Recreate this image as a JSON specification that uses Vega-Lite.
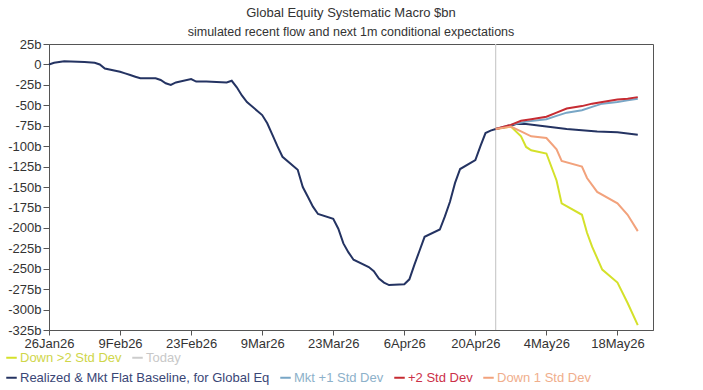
{
  "$schema": "https://vega.github.io/schema/vega-lite/v6.json",
  "width": 604,
  "height": 286,
  "autosize": {"type": "none"},
  "padding": {"left": 49, "top": 44, "right": 50, "bottom": 60},
  "background": "white",
  "title": {
    "text": "Global Equity Systematic Macro $bn",
    "subtitle": "simulated recent flow and next 1m conditional expectations",
    "anchor": "middle",
    "font": "Liberation Sans",
    "subtitleFont": "Liberation Sans",
    "fontSize": 13,
    "subtitleFontSize": 12.5,
    "fontWeight": "normal",
    "color": "#333333",
    "subtitleColor": "#333333",
    "subtitlePadding": 6,
    "offset": 0
  },
  "config": {
    "font": "Liberation Sans",
    "view": {"stroke": "#555555", "strokeWidth": 1}
  },
  "data": {
    "values": [
      {"date": "2026-01-26", "value": 0, "series": "Realized & Mkt Flat Baseline, for Global Eq"},
      {"date": "2026-01-27", "value": 2, "series": "Realized & Mkt Flat Baseline, for Global Eq"},
      {"date": "2026-01-28", "value": 3, "series": "Realized & Mkt Flat Baseline, for Global Eq"},
      {"date": "2026-01-29", "value": 4, "series": "Realized & Mkt Flat Baseline, for Global Eq"},
      {"date": "2026-02-02", "value": 3, "series": "Realized & Mkt Flat Baseline, for Global Eq"},
      {"date": "2026-02-04", "value": 2, "series": "Realized & Mkt Flat Baseline, for Global Eq"},
      {"date": "2026-02-05", "value": 0, "series": "Realized & Mkt Flat Baseline, for Global Eq"},
      {"date": "2026-02-06", "value": -5, "series": "Realized & Mkt Flat Baseline, for Global Eq"},
      {"date": "2026-02-09", "value": -9, "series": "Realized & Mkt Flat Baseline, for Global Eq"},
      {"date": "2026-02-10", "value": -11, "series": "Realized & Mkt Flat Baseline, for Global Eq"},
      {"date": "2026-02-11", "value": -13, "series": "Realized & Mkt Flat Baseline, for Global Eq"},
      {"date": "2026-02-12", "value": -15, "series": "Realized & Mkt Flat Baseline, for Global Eq"},
      {"date": "2026-02-13", "value": -17, "series": "Realized & Mkt Flat Baseline, for Global Eq"},
      {"date": "2026-02-16", "value": -17, "series": "Realized & Mkt Flat Baseline, for Global Eq"},
      {"date": "2026-02-17", "value": -19, "series": "Realized & Mkt Flat Baseline, for Global Eq"},
      {"date": "2026-02-18", "value": -23, "series": "Realized & Mkt Flat Baseline, for Global Eq"},
      {"date": "2026-02-19", "value": -25, "series": "Realized & Mkt Flat Baseline, for Global Eq"},
      {"date": "2026-02-20", "value": -22, "series": "Realized & Mkt Flat Baseline, for Global Eq"},
      {"date": "2026-02-23", "value": -18, "series": "Realized & Mkt Flat Baseline, for Global Eq"},
      {"date": "2026-02-24", "value": -21, "series": "Realized & Mkt Flat Baseline, for Global Eq"},
      {"date": "2026-02-26", "value": -21, "series": "Realized & Mkt Flat Baseline, for Global Eq"},
      {"date": "2026-03-02", "value": -22, "series": "Realized & Mkt Flat Baseline, for Global Eq"},
      {"date": "2026-03-03", "value": -20, "series": "Realized & Mkt Flat Baseline, for Global Eq"},
      {"date": "2026-03-04", "value": -28, "series": "Realized & Mkt Flat Baseline, for Global Eq"},
      {"date": "2026-03-05", "value": -38, "series": "Realized & Mkt Flat Baseline, for Global Eq"},
      {"date": "2026-03-06", "value": -46, "series": "Realized & Mkt Flat Baseline, for Global Eq"},
      {"date": "2026-03-09", "value": -62, "series": "Realized & Mkt Flat Baseline, for Global Eq"},
      {"date": "2026-03-10", "value": -72, "series": "Realized & Mkt Flat Baseline, for Global Eq"},
      {"date": "2026-03-11", "value": -86, "series": "Realized & Mkt Flat Baseline, for Global Eq"},
      {"date": "2026-03-12", "value": -100, "series": "Realized & Mkt Flat Baseline, for Global Eq"},
      {"date": "2026-03-13", "value": -113, "series": "Realized & Mkt Flat Baseline, for Global Eq"},
      {"date": "2026-03-16", "value": -129, "series": "Realized & Mkt Flat Baseline, for Global Eq"},
      {"date": "2026-03-17", "value": -150, "series": "Realized & Mkt Flat Baseline, for Global Eq"},
      {"date": "2026-03-18", "value": -162, "series": "Realized & Mkt Flat Baseline, for Global Eq"},
      {"date": "2026-03-19", "value": -174, "series": "Realized & Mkt Flat Baseline, for Global Eq"},
      {"date": "2026-03-20", "value": -183, "series": "Realized & Mkt Flat Baseline, for Global Eq"},
      {"date": "2026-03-23", "value": -189, "series": "Realized & Mkt Flat Baseline, for Global Eq"},
      {"date": "2026-03-24", "value": -201, "series": "Realized & Mkt Flat Baseline, for Global Eq"},
      {"date": "2026-03-25", "value": -219, "series": "Realized & Mkt Flat Baseline, for Global Eq"},
      {"date": "2026-03-26", "value": -230, "series": "Realized & Mkt Flat Baseline, for Global Eq"},
      {"date": "2026-03-27", "value": -239, "series": "Realized & Mkt Flat Baseline, for Global Eq"},
      {"date": "2026-03-30", "value": -248, "series": "Realized & Mkt Flat Baseline, for Global Eq"},
      {"date": "2026-03-31", "value": -253, "series": "Realized & Mkt Flat Baseline, for Global Eq"},
      {"date": "2026-04-01", "value": -262, "series": "Realized & Mkt Flat Baseline, for Global Eq"},
      {"date": "2026-04-02", "value": -267, "series": "Realized & Mkt Flat Baseline, for Global Eq"},
      {"date": "2026-04-03", "value": -270, "series": "Realized & Mkt Flat Baseline, for Global Eq"},
      {"date": "2026-04-06", "value": -269, "series": "Realized & Mkt Flat Baseline, for Global Eq"},
      {"date": "2026-04-07", "value": -263, "series": "Realized & Mkt Flat Baseline, for Global Eq"},
      {"date": "2026-04-08", "value": -245, "series": "Realized & Mkt Flat Baseline, for Global Eq"},
      {"date": "2026-04-09", "value": -228, "series": "Realized & Mkt Flat Baseline, for Global Eq"},
      {"date": "2026-04-10", "value": -211, "series": "Realized & Mkt Flat Baseline, for Global Eq"},
      {"date": "2026-04-13", "value": -202, "series": "Realized & Mkt Flat Baseline, for Global Eq"},
      {"date": "2026-04-14", "value": -186, "series": "Realized & Mkt Flat Baseline, for Global Eq"},
      {"date": "2026-04-15", "value": -168, "series": "Realized & Mkt Flat Baseline, for Global Eq"},
      {"date": "2026-04-16", "value": -145, "series": "Realized & Mkt Flat Baseline, for Global Eq"},
      {"date": "2026-04-17", "value": -128, "series": "Realized & Mkt Flat Baseline, for Global Eq"},
      {"date": "2026-04-20", "value": -117, "series": "Realized & Mkt Flat Baseline, for Global Eq"},
      {"date": "2026-04-21", "value": -100, "series": "Realized & Mkt Flat Baseline, for Global Eq"},
      {"date": "2026-04-22", "value": -84, "series": "Realized & Mkt Flat Baseline, for Global Eq"},
      {"date": "2026-04-23", "value": -81, "series": "Realized & Mkt Flat Baseline, for Global Eq"},
      {"date": "2026-04-24", "value": -79, "series": "Realized & Mkt Flat Baseline, for Global Eq"},
      {"date": "2026-04-27", "value": -75, "series": "Realized & Mkt Flat Baseline, for Global Eq"},
      {"date": "2026-04-28", "value": -73, "series": "Realized & Mkt Flat Baseline, for Global Eq"},
      {"date": "2026-04-30", "value": -73, "series": "Realized & Mkt Flat Baseline, for Global Eq"},
      {"date": "2026-05-04", "value": -76, "series": "Realized & Mkt Flat Baseline, for Global Eq"},
      {"date": "2026-05-08", "value": -79, "series": "Realized & Mkt Flat Baseline, for Global Eq"},
      {"date": "2026-05-14", "value": -82, "series": "Realized & Mkt Flat Baseline, for Global Eq"},
      {"date": "2026-05-18", "value": -83, "series": "Realized & Mkt Flat Baseline, for Global Eq"},
      {"date": "2026-05-22", "value": -86, "series": "Realized & Mkt Flat Baseline, for Global Eq"},
      {"date": "2026-04-24", "value": -79, "series": "Mkt +1 Std Dev"},
      {"date": "2026-04-27", "value": -74, "series": "Mkt +1 Std Dev"},
      {"date": "2026-04-30", "value": -70, "series": "Mkt +1 Std Dev"},
      {"date": "2026-05-04", "value": -67, "series": "Mkt +1 Std Dev"},
      {"date": "2026-05-06", "value": -63, "series": "Mkt +1 Std Dev"},
      {"date": "2026-05-08", "value": -59, "series": "Mkt +1 Std Dev"},
      {"date": "2026-05-11", "value": -56, "series": "Mkt +1 Std Dev"},
      {"date": "2026-05-13", "value": -52, "series": "Mkt +1 Std Dev"},
      {"date": "2026-05-15", "value": -48, "series": "Mkt +1 Std Dev"},
      {"date": "2026-05-18", "value": -46, "series": "Mkt +1 Std Dev"},
      {"date": "2026-05-20", "value": -44, "series": "Mkt +1 Std Dev"},
      {"date": "2026-05-22", "value": -42, "series": "Mkt +1 Std Dev"},
      {"date": "2026-04-24", "value": -79, "series": "+2 Std Dev"},
      {"date": "2026-04-27", "value": -74, "series": "+2 Std Dev"},
      {"date": "2026-04-29", "value": -69, "series": "+2 Std Dev"},
      {"date": "2026-05-01", "value": -67, "series": "+2 Std Dev"},
      {"date": "2026-05-04", "value": -64, "series": "+2 Std Dev"},
      {"date": "2026-05-06", "value": -59, "series": "+2 Std Dev"},
      {"date": "2026-05-08", "value": -54, "series": "+2 Std Dev"},
      {"date": "2026-05-11", "value": -51, "series": "+2 Std Dev"},
      {"date": "2026-05-13", "value": -48, "series": "+2 Std Dev"},
      {"date": "2026-05-15", "value": -46, "series": "+2 Std Dev"},
      {"date": "2026-05-18", "value": -43, "series": "+2 Std Dev"},
      {"date": "2026-05-20", "value": -42, "series": "+2 Std Dev"},
      {"date": "2026-05-22", "value": -40, "series": "+2 Std Dev"},
      {"date": "2026-04-24", "value": -79, "series": "Down 1 Std Dev"},
      {"date": "2026-04-27", "value": -76, "series": "Down 1 Std Dev"},
      {"date": "2026-04-29", "value": -82, "series": "Down 1 Std Dev"},
      {"date": "2026-05-01", "value": -88, "series": "Down 1 Std Dev"},
      {"date": "2026-05-04", "value": -90, "series": "Down 1 Std Dev"},
      {"date": "2026-05-06", "value": -104, "series": "Down 1 Std Dev"},
      {"date": "2026-05-07", "value": -118, "series": "Down 1 Std Dev"},
      {"date": "2026-05-11", "value": -125, "series": "Down 1 Std Dev"},
      {"date": "2026-05-12", "value": -139, "series": "Down 1 Std Dev"},
      {"date": "2026-05-14", "value": -156, "series": "Down 1 Std Dev"},
      {"date": "2026-05-18", "value": -170, "series": "Down 1 Std Dev"},
      {"date": "2026-05-20", "value": -184, "series": "Down 1 Std Dev"},
      {"date": "2026-05-22", "value": -204, "series": "Down 1 Std Dev"},
      {"date": "2026-04-24", "value": -79, "series": "Down >2 Std Dev"},
      {"date": "2026-04-27", "value": -76, "series": "Down >2 Std Dev"},
      {"date": "2026-04-29", "value": -88, "series": "Down >2 Std Dev"},
      {"date": "2026-04-30", "value": -101, "series": "Down >2 Std Dev"},
      {"date": "2026-05-01", "value": -105, "series": "Down >2 Std Dev"},
      {"date": "2026-05-04", "value": -109, "series": "Down >2 Std Dev"},
      {"date": "2026-05-06", "value": -142, "series": "Down >2 Std Dev"},
      {"date": "2026-05-07", "value": -170, "series": "Down >2 Std Dev"},
      {"date": "2026-05-11", "value": -184, "series": "Down >2 Std Dev"},
      {"date": "2026-05-12", "value": -206, "series": "Down >2 Std Dev"},
      {"date": "2026-05-13", "value": -223, "series": "Down >2 Std Dev"},
      {"date": "2026-05-15", "value": -251, "series": "Down >2 Std Dev"},
      {"date": "2026-05-18", "value": -267, "series": "Down >2 Std Dev"},
      {"date": "2026-05-20", "value": -292, "series": "Down >2 Std Dev"},
      {"date": "2026-05-22", "value": -319, "series": "Down >2 Std Dev"},
      {"date": "2026-04-24", "value": null, "series": "Today"}
    ]
  },
  "encoding": {
    "x": {
      "field": "date",
      "type": "temporal",
      "scale": {
        "type": "utc",
        "domain": [
          {"year": 2026, "month": 1, "date": 26, "utc": true},
          {"year": 2026, "month": 5, "date": 25, "utc": true}
        ]
      },
      "axis": {
        "title": null,
        "grid": false,
        "values": [
          {"year": 2026, "month": 1, "date": 26, "utc": true},
          {"year": 2026, "month": 2, "date": 9, "utc": true},
          {"year": 2026, "month": 2, "date": 23, "utc": true},
          {"year": 2026, "month": 3, "date": 9, "utc": true},
          {"year": 2026, "month": 3, "date": 23, "utc": true},
          {"year": 2026, "month": 4, "date": 6, "utc": true},
          {"year": 2026, "month": 4, "date": 20, "utc": true},
          {"year": 2026, "month": 5, "date": 4, "utc": true},
          {"year": 2026, "month": 5, "date": 18, "utc": true}
        ],
        "labelExpr": "utcFormat(datum.value, '%-d%b%y')",
        "labelFlush": false,
        "labelOverlap": false,
        "labelFontSize": 13,
        "labelColor": "#333333",
        "labelPadding": 2,
        "tickSize": 5,
        "tickColor": "#555555",
        "domainColor": "#555555"
      }
    }
  },
  "layer": [
    {
      "transform": [{"filter": "datum.series === 'Down >2 Std Dev' || datum.series === 'Today'"}],
      "encoding": {
        "color": {
          "field": "series",
          "type": "nominal",
          "scale": {"domain": ["Down >2 Std Dev", "Today"], "range": ["#d4e12a", "#cccccc"]},
          "legend": {
            "orient": "none",
            "legendX": -44,
            "legendY": 307,
            "direction": "horizontal",
            "title": null,
            "symbolType": "stroke",
            "symbolStrokeWidth": 2,
            "symbolSize": 110,
            "labelFontSize": 13,
            "labelOffset": 2,
            "labelLimit": 400,
            "columnPadding": 6,
            "encode": {
              "labels": {"update": {"fill": {"signal": "datum.value === 'Today' ? '#c8c8c8' : '#cfd64a'"}}}
            }
          }
        }
      },
      "layer": [
        {
          "transform": [{"filter": "datum.series === 'Today'"}],
          "mark": {"type": "rule", "strokeWidth": 1.2},
          "encoding": {}
        },
        {
          "transform": [{"filter": "datum.series === 'Down >2 Std Dev'"}],
          "mark": {"type": "line", "strokeWidth": 2},
          "encoding": {
            "y": {
              "field": "value",
              "type": "quantitative",
              "scale": {"domain": [-325, 25], "nice": false, "zero": false},
              "axis": {
                "title": null,
                "grid": false,
                "values": [25, 0, -25, -50, -75, -100, -125, -150, -175, -200, -225, -250, -275, -300, -325],
                "labelExpr": "datum.value == 0 ? '0' : datum.value + 'b'",
                "labelFlush": false,
                "labelOverlap": false,
                "labelFontSize": 13,
                "labelColor": "#333333",
                "labelPadding": 2,
                "tickSize": 6,
                "tickColor": "#555555",
                "domainColor": "#555555"
              }
            }
          }
        }
      ]
    },
    {
      "transform": [{"filter": "datum.series !== 'Down >2 Std Dev' && datum.series !== 'Today'"}],
      "mark": {"type": "line", "strokeWidth": 2},
      "encoding": {
        "y": {
          "field": "value",
          "type": "quantitative",
          "scale": {"domain": [-325, 25], "nice": false, "zero": false},
          "axis": {
            "title": null,
            "grid": false,
            "values": [25, 0, -25, -50, -75, -100, -125, -150, -175, -200, -225, -250, -275, -300, -325],
            "labelExpr": "datum.value == 0 ? '0' : datum.value + 'b'",
            "labelFlush": false,
            "labelOverlap": false,
            "labelFontSize": 13,
            "labelColor": "#333333",
            "labelPadding": 2,
            "tickSize": 6,
            "tickColor": "#555555",
            "domainColor": "#555555"
          }
        },
        "color": {
          "field": "series",
          "type": "nominal",
          "scale": {
            "domain": ["Realized & Mkt Flat Baseline, for Global Eq", "Mkt +1 Std Dev", "+2 Std Dev", "Down 1 Std Dev"],
            "range": ["#243362", "#78a6c6", "#c62b32", "#f2a27c"]
          },
          "legend": {
            "orient": "none",
            "legendX": -44,
            "legendY": 327,
            "direction": "horizontal",
            "title": null,
            "symbolType": "stroke",
            "symbolStrokeWidth": 2,
            "symbolSize": 110,
            "labelFontSize": 13,
            "labelOffset": 2,
            "labelLimit": 400,
            "columnPadding": 6,
            "encode": {
              "labels": {"update": {"fill": {"signal": "datum.value === 'Mkt +1 Std Dev' ? '#8db1ca' : datum.value === '+2 Std Dev' ? '#cc3048' : datum.value === 'Down 1 Std Dev' ? '#f0ae8c' : '#3a4676'"}}}
            }
          }
        }
      }
    }
  ],
  "resolve": {"scale": {"color": "independent"}}
}
